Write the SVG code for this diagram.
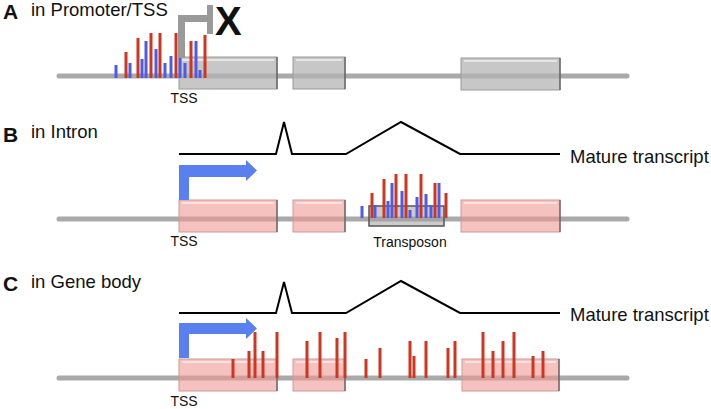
<svg xmlns="http://www.w3.org/2000/svg" width="711" height="409" viewBox="0 0 711 409">
<defs>
<style>
text{font-family:"Liberation Sans",Arial,sans-serif;fill:#111}
.lbl{font-size:21px;font-weight:bold}
.ttl{font-size:18.5px}
.sm{font-size:14px}
.axis{stroke:#a9a9a9;stroke-width:5;stroke-linecap:round}
.gbox{fill:#b4b4b4;fill-opacity:0.75;stroke:#9a9a9a;stroke-width:1}
.pbox{fill:#f09a94;fill-opacity:0.6;stroke:#c99;stroke-width:1}
.edge{stroke:#555;stroke-width:1.2}
.hl{stroke:#fff;stroke-opacity:0.55;stroke-width:2}
.r{fill:#d0351f}
.b{fill:#4c5ce8}
.tr{fill:none;stroke:#000;stroke-width:2;stroke-linejoin:miter}
.arr{fill:#5a80f0}
</style>
</defs>
<rect width="711" height="409" fill="#fff"/>

<!-- Panel A -->
<g id="panelA">
<text class="lbl" x="3" y="19">A</text>
<text class="ttl" x="31" y="16">in Promoter/TSS</text>
<line class="axis" x1="59" y1="76" x2="627" y2="76"/>
<g id="A-exon1"><rect class="gbox" x="179" y="57" width="98" height="32"/><line class="hl" x1="182" y1="60" x2="274" y2="60"/><line class="edge" x1="277" y1="57" x2="277" y2="89"/></g>
<g id="A-exon2"><rect class="gbox" x="293" y="57" width="52" height="32"/><line class="hl" x1="296" y1="60" x2="342" y2="60"/><line class="edge" x1="345" y1="57" x2="345" y2="89"/></g>
<g id="A-exon3"><rect class="gbox" x="461" y="58" width="99" height="32"/><line class="hl" x1="464" y1="61" x2="557" y2="61"/><line class="edge" x1="560" y1="58" x2="560" y2="90"/></g>
<g id="A-bars">
<rect class="b" x="114.5" y="65" width="3" height="13"/>
<rect class="r" x="124.5" y="52" width="3" height="26"/>
<rect class="b" x="128.5" y="63" width="3" height="15"/>
<rect class="r" x="136.5" y="38" width="3" height="40"/>
<rect class="b" x="140.5" y="59" width="3" height="19"/>
<rect class="b" x="144.5" y="41" width="3" height="37"/>
<rect class="r" x="149.5" y="33" width="3" height="45"/>
<rect class="b" x="154.5" y="49" width="3" height="29"/>
<rect class="r" x="158.5" y="33" width="3" height="45"/>
<rect class="b" x="163.5" y="63" width="3" height="15"/>
<rect class="b" x="169.5" y="56" width="3" height="22"/>
<rect class="r" x="174.5" y="33" width="3" height="45"/>
<rect class="b" x="178.5" y="58" width="3" height="20"/>
<rect class="b" x="183.5" y="63" width="3" height="15"/>
<rect class="r" x="189.5" y="41" width="3" height="37"/>
<rect class="b" x="194.5" y="41" width="3" height="37"/>
<rect class="b" x="198.5" y="70" width="3" height="8"/>
<rect class="r" x="203.5" y="35" width="3" height="43"/>
</g>
<g id="A-tss">
<path d="M181.5,58 V18.5 H209" fill="none" stroke="#9a9a9a" stroke-width="7"/>
<rect x="207" y="5" width="6" height="29" fill="#9a9a9a"/>
<text x="215" y="35" style="font-size:40px;font-weight:bold">X</text>
</g>
<text class="sm" x="184" y="103" text-anchor="middle">TSS</text>
</g>

<!-- Panel B -->
<g id="panelB">
<text class="lbl" x="3" y="142">B</text>
<text class="ttl" x="31" y="138">in Intron</text>
<g id="B-transcript">
<polyline class="tr" points="179,154 276,154 284,122 292,154 346,154 401,122 460,154 560,154"/>
<text class="ttl" x="570" y="163">Mature transcript</text>
</g>
<line class="axis" x1="59" y1="219" x2="627" y2="219"/>
<g id="B-exon1"><rect class="pbox" x="179" y="200" width="98" height="32"/><line class="hl" x1="182" y1="203" x2="274" y2="203"/><line class="edge" x1="277" y1="200" x2="277" y2="232"/></g>
<g id="B-exon2"><rect class="pbox" x="293" y="200" width="52" height="32"/><line class="hl" x1="296" y1="203" x2="342" y2="203"/><line class="edge" x1="345" y1="200" x2="345" y2="232"/></g>
<g id="B-exon3"><rect class="pbox" x="461" y="200" width="99" height="32"/><line class="hl" x1="464" y1="203" x2="557" y2="203"/><line class="edge" x1="560" y1="200" x2="560" y2="232"/></g>
<g id="B-transposon"><rect x="369" y="206" width="75" height="20" fill="#a0a0a0" fill-opacity="0.55" stroke="#555" stroke-width="1.5"/></g>
<g id="B-bars">
<rect class="b" x="360.5" y="206" width="3" height="12"/>
<rect class="r" x="370.5" y="193" width="3" height="25"/>
<rect class="b" x="373.5" y="205" width="3" height="13"/>
<rect class="r" x="382.5" y="179" width="3" height="39"/>
<rect class="b" x="386.5" y="201" width="3" height="17"/>
<rect class="b" x="390.5" y="183" width="3" height="35"/>
<rect class="r" x="394.5" y="174" width="3" height="44"/>
<rect class="b" x="400.5" y="191" width="3" height="27"/>
<rect class="r" x="404.5" y="174" width="3" height="44"/>
<rect class="b" x="408.5" y="210" width="3" height="8"/>
<rect class="b" x="415.5" y="197" width="3" height="21"/>
<rect class="r" x="419.5" y="174" width="3" height="44"/>
<rect class="b" x="424.5" y="194" width="3" height="24"/>
<rect class="b" x="429.5" y="205" width="3" height="13"/>
<rect class="r" x="433.5" y="183" width="3" height="35"/>
<rect class="b" x="437.5" y="183" width="3" height="35"/>
<rect class="r" x="444.5" y="193" width="3" height="25"/>
</g>
<path id="B-arrow" class="arr" d="M179,200 V165 H246 V160 L257,170.5 L246,181 V177 H189 V200 Z"/>
<text class="sm" x="184" y="246" text-anchor="middle">TSS</text>
<text class="sm" x="410" y="247" text-anchor="middle">Transposon</text>
</g>

<!-- Panel C -->
<g id="panelC">
<text class="lbl" x="3" y="291">C</text>
<text class="ttl" x="31" y="288">in Gene body</text>
<g id="C-transcript">
<polyline class="tr" points="179,313 276,313 284,282 292,313 346,313 401,281 460,313 560,313"/>
<text class="ttl" x="570" y="321">Mature transcript</text>
</g>
<line class="axis" x1="59" y1="378" x2="627" y2="378"/>
<g id="C-exon1"><rect class="pbox" x="179" y="359" width="98" height="32"/><line class="hl" x1="182" y1="362" x2="274" y2="362"/><line class="edge" x1="277" y1="359" x2="277" y2="391"/></g>
<g id="C-exon2"><rect class="pbox" x="293" y="359" width="52" height="32"/><line class="hl" x1="296" y1="362" x2="342" y2="362"/><line class="edge" x1="345" y1="359" x2="345" y2="391"/></g>
<g id="C-exon3"><rect class="pbox" x="462" y="359" width="97" height="32"/><line class="hl" x1="465" y1="362" x2="556" y2="362"/><line class="edge" x1="559" y1="359" x2="559" y2="391"/></g>
<g id="C-bars">
<rect class="r" x="231.5" y="359" width="3" height="19"/>
<rect class="r" x="247.5" y="351" width="3" height="27"/>
<rect class="r" x="253.5" y="332" width="3" height="46"/>
<rect class="r" x="261.5" y="351" width="3" height="27"/>
<rect class="r" x="275.5" y="332" width="3" height="46"/>
<rect class="r" x="305.5" y="341" width="3" height="37"/>
<rect class="r" x="318.5" y="332" width="3" height="46"/>
<rect class="r" x="335.5" y="338" width="3" height="40"/>
<rect class="r" x="343.5" y="332" width="3" height="46"/>
<rect class="r" x="364.5" y="359" width="3" height="19"/>
<rect class="r" x="378.5" y="348" width="3" height="30"/>
<rect class="r" x="408.5" y="341" width="3" height="37"/>
<rect class="r" x="412.5" y="356" width="3" height="22"/>
<rect class="r" x="424.5" y="341" width="3" height="37"/>
<rect class="r" x="446.5" y="348" width="3" height="30"/>
<rect class="r" x="453.5" y="341" width="3" height="37"/>
<rect class="r" x="481.5" y="332" width="3" height="46"/>
<rect class="r" x="491.5" y="351" width="3" height="27"/>
<rect class="r" x="501.5" y="341" width="3" height="37"/>
<rect class="r" x="512.5" y="332" width="3" height="46"/>
<rect class="r" x="531.5" y="356" width="3" height="22"/>
<rect class="r" x="541.5" y="351" width="3" height="27"/>
</g>
<path id="C-arrow" class="arr" d="M179,358 V323 H246 V318 L257,328.5 L246,339 V334 H189 V358 Z"/>
<text class="sm" x="184" y="406" text-anchor="middle">TSS</text>
</g>
</svg>
